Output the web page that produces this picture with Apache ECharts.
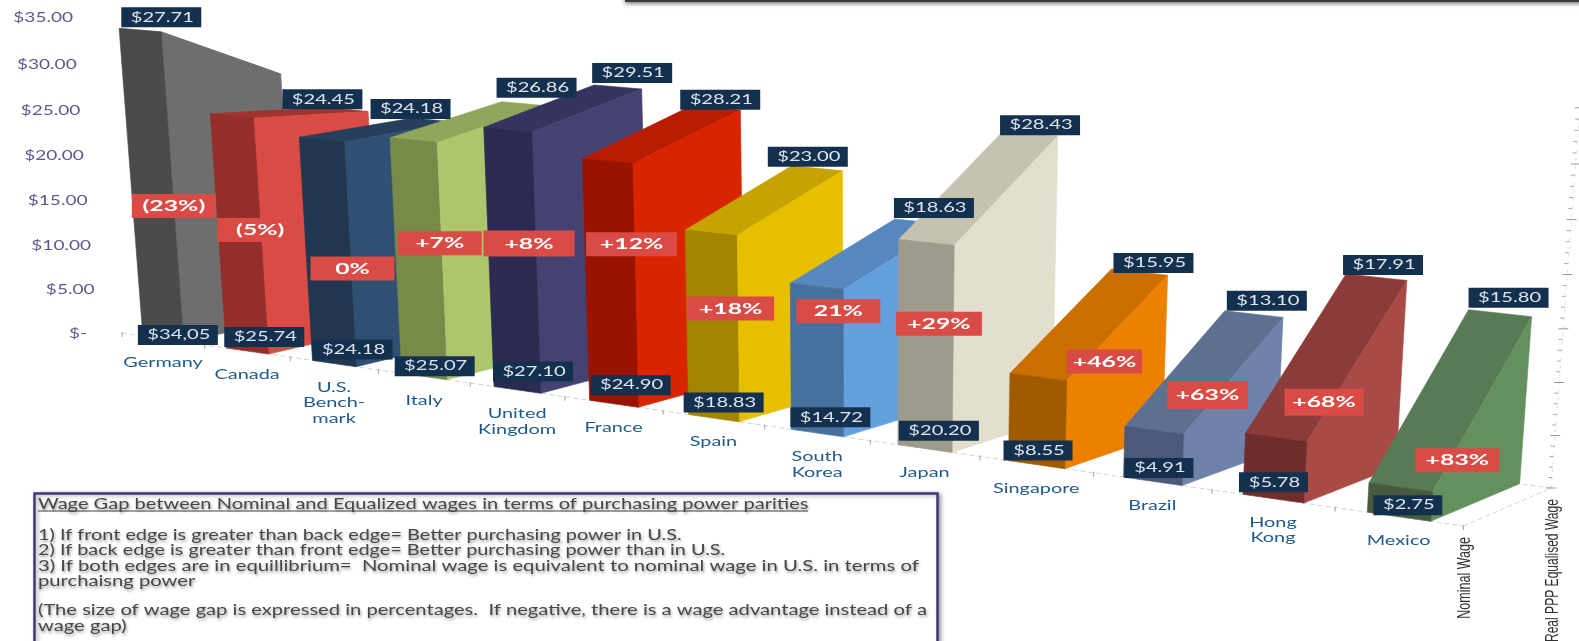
<!DOCTYPE html>
<html>
<head>
<meta charset="utf-8">
<style>html,body{margin:0;padding:0;background:#fff;overflow:hidden}#c{width:1579px;height:641px}</style>
<script src="https://cdn.jsdelivr.net/npm/echarts@6/dist/echarts.min.js"></script>
</head>
<body>
<div id="c"></div>
<script>
// ---------- data ----------
const categories = ['Germany','Canada','U.S.\nBench-\nmark','Italy','United\nKingdom','France','Spain','South\nKorea','Japan','Singapore','Brazil','Hong\nKong','Mexico'];
const nominalWage = [34.05,25.74,24.18,25.07,27.10,24.90,18.83,14.72,20.20,8.55,4.91,5.78,2.75];
const realWage    = [27.71,24.45,24.18,26.86,29.51,28.21,23.00,18.63,28.43,15.95,13.10,17.91,15.80];
const nominalText = ['$34,05','$25.74','$24.18','$25.07','$27.10','$24.90','$18.83','$14.72','$20.20','$8.55','$4.91','$5.78','$2.75'];
const realText    = ['$27.71','$24.45','$24.18','$26.86','$29.51','$28.21','$23.00','$18.63','$28.43','$15.95','$13.10','$17.91','$15.80'];
const gapText     = ['(23%)','(5%)','0%','+7%','+8%','+12%','+18%','21%','+29%','+46%','+63%','+68%','+83%'];
const valueTicks  = [0,5,10,15,20,25,30,35];
const valueTickText = ['$-','$5.00','$10.00','$15.00','$20.00','$25.00','$30.00','$35.00'];
const depthNames  = ['Nominal Wage','Real PPP Equalised Wage'];
const noteLines = [
 'Wage Gap between Nominal and Equalized wages in terms of purchasing power parities',
 '1) If front edge is greater than back edge= Better purchasing power in U.S.',
 '2) If back edge is greater than front edge= Better purchasing power than in U.S.',
 '3) If both edges are in equillibrium=  Nominal wage is equivalent to nominal wage in U.S. in terms of',
 'purchaisng power',
 '(The size of wage gap is expressed in percentages.  If negative, there is a wage advantage instead of a',
 'wage gap)'
];

// ---------- styles ----------
const faceFront = ['#4a4a4a','#952e2b','#20374f','#778a48','#2b2a52','#991300','#a28500','#46719e','#9e9a8c','#a05a00','#4a5a78','#702c2c','#475a3e'];
const faceSide  = ['#6e6e6e','#d94b44','#2f5073','#adc66c','#454272','#d92400','#e6c000','#64a0dd','#e2dfcc','#ec8000','#6f83aa','#a84a46','#649060'];
const faceTop   = ['#5a5a5a','#a0332e','#253f5c','#90a65a','#353460','#b81c00','#c6a300','#5688bd','#c5c2af','#cb6e00','#5d7092','#8b3b38','#587a55'];
const FONT = 'Lato, sans-serif';
const NAVY = '#14304f', RED = '#d94b44';

// ---------- layout: label offsets from the projected bar corners ----------
const topNudge = [[-118,-43],[-43,2],[-42,1],[-5,-4],[-2,-2],[-11,4],[-24,1],[-1,-1],[-3,4],[2,4],[2,0],[-3,1],[0,-2]];
const botNudge = [[-5,9],[-2,-1],[0,-1],[-7,3],[-1,-5],[1,-5],[-5,-2],[-1,-2],[1,-4],[-5,0],[1,1],[-4,-2],[6,3]];
const gapNudge = [[31,-130],[34,-118],[40,-92],[38,-130],[35,-143],[42,-156],[42,-106],[47,-118],[41,-121],[96,-99],[84,-82],[81,-92],[90,-52]];
const gapW = [84,86,84,84,91,91,87,84,86,75,81,79,84];
const gapH = [24,24,24,24,26,24,24,24,24,24,28,27,24];
const depthScale = [0.66,0.635];
const noteScale = [1.254,1.241,1.24,1.266,1.262,1.259,1.262];

// ---------- grid and perspective ----------
const G = {left:122, top:18, width:1341, height:315};
const U_MAX = categories.length, Z_MAX = 35;
const BAR_L = 0.255, BAR_R = 0.75;
// vanishing-point camera: along the categories, into the depth, along the value
const A = -0.01625, AX = 79.4, AY = 6.3;
const B = 0.0326, VWX = 3680, VWY = -432;
const C = -0.000935, VZX = 861, VZY = 9650;

function makeProject(api){
  return function(u, w, z){
    const p = api.coord([u, z]);
    const uu = (p[0] - G.left) / (G.width / U_MAX);
    const zz = (G.top + G.height - p[1]) / (G.height / Z_MAX);
    const den = 1 + A*uu + B*w + C*zz;
    return [
      (G.left + AX*uu + B*VWX*w + C*VZX*zz) / den,
      (G.top + G.height + AY*uu + B*VWY*w + C*VZY*zz) / den
    ];
  };
}
function poly(points, fill){
  return {type:'polygon', shape:{points}, style:{fill, stroke:fill, lineWidth:0.6}};
}
function label(x, y, text, fill, font, scaleX, align){
  return {type:'text', x, y, scaleX: scaleX, style:{text, fill, font, align: align||'center', verticalAlign:'middle'}};
}
function box(x, y, w, h, fill){
  return {type:'rect', shape:{x,y,width:w,height:h}, style:{fill}};
}

function renderBar(params, api){
  const project = makeProject(api);
  const i = api.value(0), front = api.value(1), back = api.value(2);
  const L = i + BAR_L, R = i + BAR_R;
  const fBL = project(L,0,0), fBR = project(R,0,0), fTL = project(L,0,front), fTR = project(R,0,front);
  const bBR = project(R,1,0), bTL = project(L,1,back), bTR = project(R,1,back);
  return {type:'group', children:[
    poly([fTL,fTR,bTR,bTL], faceTop[i]),
    poly([fTR,fBR,bBR,bTR], faceSide[i]),
    poly([fTL,fTR,fBR,fBL], faceFront[i])
  ]};
}
function renderValueLabels(params, api){
  const project = makeProject(api);
  const i = params.dataIndex, i0 = api.value(0), z = api.value(1);
  const topLeft = project(i0 + BAR_L, 1, z);
  const bottomLeft = project(i0 + BAR_L, 0, 0);
  const kids = [];
  // back-edge tag
  const tw = realText[i].length > 5 ? 80 : 69;
  const tx = topLeft[0] + topNudge[i][0], ty = topLeft[1] + topNudge[i][1];
  kids.push(box(tx, ty-20, tw, 20, NAVY));
  kids.push(label(tx+tw/2+1, ty-10, realText[i], '#dde4ec', '13px '+FONT, 1.55));
  // front-edge tag
  const bw = nominalText[i].length > 5 ? 80 : 69;
  const bx = bottomLeft[0] + botNudge[i][0], by = bottomLeft[1] + botNudge[i][1];
  kids.push(box(bx, by-20, bw, 20, NAVY));
  kids.push(label(bx+bw/2+1, by-10, nominalText[i], '#dde4ec', '13px '+FONT, 1.55));
  // wage gap tag
  const gx = bottomLeft[0] + gapNudge[i][0], gy = bottomLeft[1] + gapNudge[i][1];
  kids.push(box(gx-gapW[i]/2, gy-gapH[i]/2, gapW[i], gapH[i], RED));
  kids.push(label(gx, gy, gapText[i], '#ffffff', 'bold 16px '+FONT, 1.55));
  return {type:'group', children:kids};
}
function renderCategory(params, api){
  const project = makeProject(api);
  const i = api.value(0);
  const p = project(i+0.5, 0, 0);
  return {type:'text', x:p[0], y:p[1]+16, scaleX:1.42,
    style:{text:categories[i], fill:'#1f5a8a', font:'14px '+FONT, lineHeight:15.5, align:'center', verticalAlign:'top'}};
}
function renderValueTick(params, api){
  const project = makeProject(api);
  const z = api.value(1), i = params.dataIndex;
  const p = project(0,0,z);
  const margin = z === 0 ? 35 : 24;
  return label(p[0]-margin, p[1], valueTickText[i], '#5b5a90', '14px '+FONT, 1.36, 'right');
}
function renderFloor(params, api){
  const project = makeProject(api);
  const a = project(0,0,0), b = project(U_MAX,0,0), c = project(U_MAX,1,0), d = project(U_MAX-1,1,0), top = project(U_MAX,1,Z_MAX);
  const dash = {stroke:'#d4d4d4', lineWidth:1, lineDash:[5,3]};
  const kids = [
    {type:'line', shape:{x1:a[0],y1:a[1],x2:b[0],y2:b[1]}, style:dash},
    {type:'line', shape:{x1:b[0],y1:b[1],x2:c[0],y2:c[1]}, style:dash},
    {type:'line', shape:{x1:c[0],y1:c[1],x2:d[0],y2:d[1]}, style:dash},
    {type:'line', shape:{x1:c[0],y1:c[1],x2:top[0],y2:top[1]}, style:{stroke:'#dedede', lineWidth:1, lineDash:[3,5]}}
  ];
  for (let u = 0; u <= U_MAX; u++) {
    const p = project(u,0,0);
    kids.push({type:'line', shape:{x1:p[0],y1:p[1]-1,x2:p[0],y2:p[1]+4}, style:{stroke:'#a0a0a0', lineWidth:1}});
  }
  // minor and major ticks of the value scale on the far corner
  for (let z = 0; z <= Z_MAX; z++) {
    const p = project(U_MAX,1,z);
    const major = valueTicks.indexOf(z) >= 0;
    kids.push({type:'line', shape:{x1:p[0]-(major?5:4),y1:p[1],x2:p[0]+(major?5:0),y2:p[1]},
      style:{stroke:major?'#999':'#aaa', lineWidth:1}});
  }
  return {type:'group', children:kids};
}
function renderDepthName(params, api){
  const project = makeProject(api);
  const i = api.value(0);
  const p = project(U_MAX, i, 0);
  return {type:'text', x:p[0]+1, y:p[1]+11, rotation:Math.PI/2, scaleX:depthScale[i],
    style:{text:depthNames[i], fill:'#333', font:'19px "Liberation Sans", sans-serif', align:'right', verticalAlign:'middle'}};
}

const barRows = categories.map((c,i)=>[i, nominalWage[i], realWage[i]]);
const tagRows = categories.map((c,i)=>[i, realWage[i], nominalWage[i]]);
const noop = {tooltip:{show:false}, silent:true, clip:false, coordinateSystem:'cartesian2d'};

// note panel
const NOTE_Y = [504,535,550,566,581,610,626];
const noteFont = '16px '+FONT;
const noteShadow = {textShadowColor:'rgba(0,0,0,0.4)', textShadowBlur:3, textShadowOffsetX:1, textShadowOffsetY:2};
const graphics = [
  {type:'rect', z:1, shape:{x:625,y:-3,width:960,height:5}, style:{fill:'#3a3a3a', shadowColor:'rgba(0,0,0,0.7)', shadowBlur:5, shadowOffsetY:1}},
  {type:'rect', z:1, shape:{x:34.5,y:493.5,width:903,height:160}, style:{fill:'#fff', stroke:'#3d3a76', lineWidth:2.5, shadowColor:'rgba(0,0,0,0.35)', shadowBlur:4, shadowOffsetX:2, shadowOffsetY:1}},
  {type:'line', z:2, shape:{x1:38,y1:511,x2:808,y2:511}, style:{stroke:'#444', lineWidth:1}}
];
noteLines.forEach((t,i)=>{
  graphics.push({type:'text', z:3, x:38, y:NOTE_Y[i], scaleX:noteScale[i],
    style:Object.assign({text:t, fill:'#474747', font:noteFont, align:'left', verticalAlign:'middle'}, noteShadow)});
});

const chart = echarts.init(document.getElementById('c'), null, {renderer:'canvas'});
chart.setOption({
  animation:false,
  backgroundColor:'#ffffff',
  grid:{left:G.left, top:G.top, width:G.width, height:G.height, containLabel:false},
  xAxis:{type:'value', min:0, max:U_MAX, show:false},
  yAxis:{type:'value', min:0, max:Z_MAX, interval:5, show:false},
  graphic:graphics,
  series:[
    Object.assign({type:'custom', name:'floor', z:1, renderItem:renderFloor, data:[[0,0]]}, noop),
    Object.assign({type:'custom', name:'value ticks', z:1, renderItem:renderValueTick, data:valueTicks.map(v=>[0,v])}, noop),
    Object.assign({type:'custom', name:'Wages', z:2, renderItem:renderBar, data:barRows}, noop),
    Object.assign({type:'custom', name:'categories', z:3, renderItem:renderCategory, data:categories.map((c,i)=>[i,0])}, noop),
    Object.assign({type:'custom', name:'depth', z:3, renderItem:renderDepthName, data:depthNames.map((c,i)=>[i,0])}, noop),
    Object.assign({type:'custom', name:'tags', z:5, renderItem:renderValueLabels, data:tagRows}, noop)
  ]
});
</script>
</body>
</html>
